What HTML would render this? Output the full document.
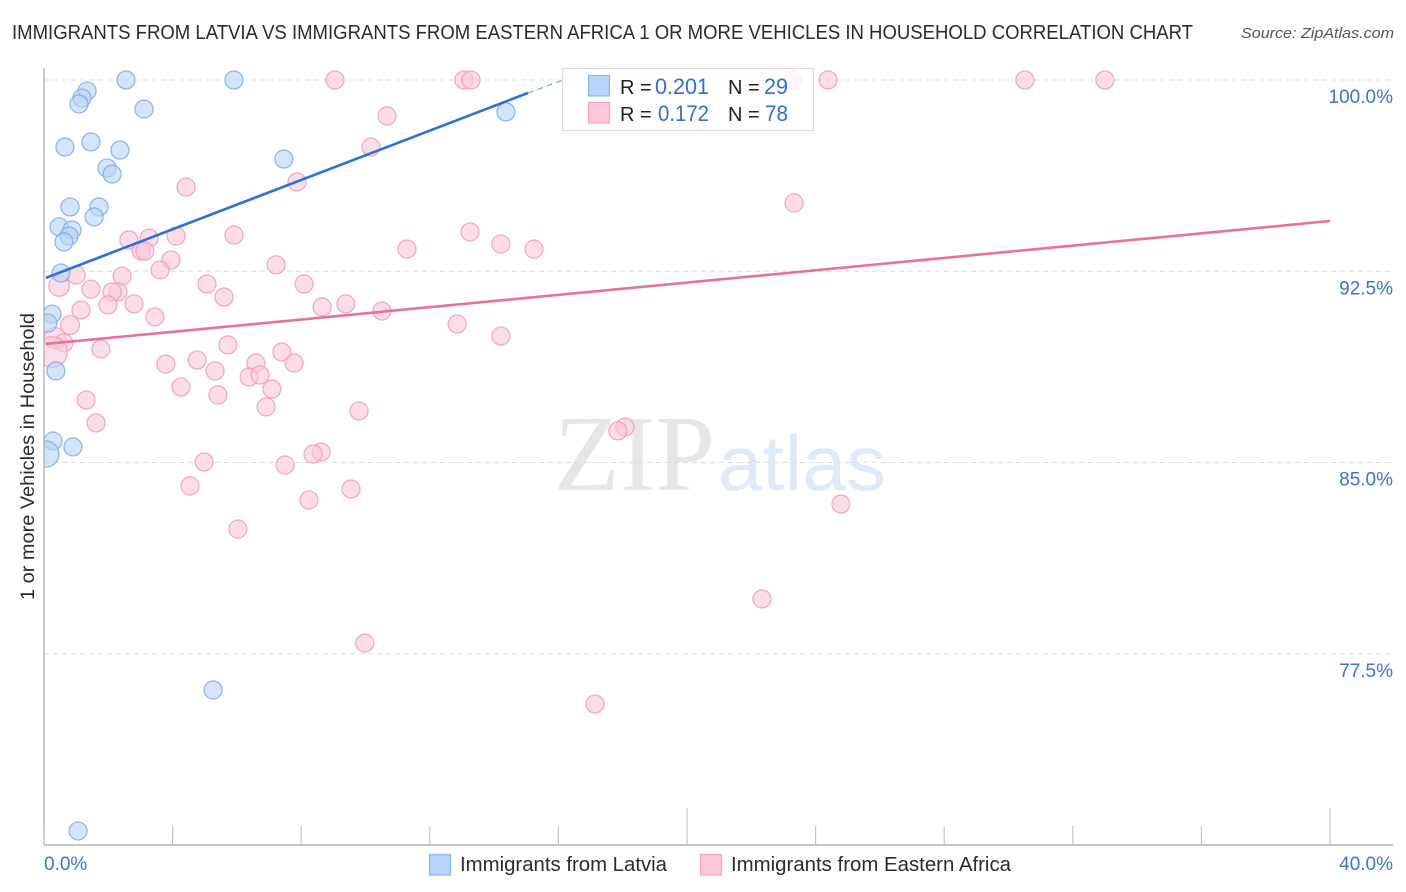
<!DOCTYPE html>
<html lang="en">
<head>
<meta charset="utf-8">
<title>Immigrants from Latvia vs Immigrants from Eastern Africa correlation chart</title>
<style>
html,body{margin:0;padding:0;background:#fff;width:1406px;height:892px;overflow:hidden}
svg{display:block;font-family:"Liberation Sans",sans-serif}
</style>
</head>
<body>
<svg id="chart" xmlns="http://www.w3.org/2000/svg" width="1406" height="892" viewBox="0 0 1406 892">
  <defs>
    <clipPath id="plot-clip"><rect x="44" y="60" width="1350" height="785"/></clipPath>
  </defs>
  <text x="12" y="39" font-size="20" fill="#2b2b2b" textLength="1181" lengthAdjust="spacingAndGlyphs">IMMIGRANTS FROM LATVIA VS IMMIGRANTS FROM EASTERN AFRICA 1 OR MORE VEHICLES IN HOUSEHOLD CORRELATION CHART</text>
  <text x="1394" y="38" font-size="15" font-style="italic" fill="#555" text-anchor="end" textLength="153" lengthAdjust="spacingAndGlyphs">Source: ZipAtlas.com</text>

  <g>
    <text x="554" y="490" font-family="'Liberation Serif',serif" font-size="108" fill="#e6e6e6" textLength="161" lengthAdjust="spacingAndGlyphs">ZIP</text>
    <text x="718" y="490" font-size="78" fill="#e0e9f8" textLength="168" lengthAdjust="spacingAndGlyphs">atlas</text>
  </g>

  <g id="grid"></g>
  <g id="series-pink" clip-path="url(#plot-clip)"></g>
  <g id="series-blue" clip-path="url(#plot-clip)"></g>
  <g id="axes"></g>
  <g id="trends"></g>
  <g id="labels"></g>

  <text transform="translate(34,456.5) rotate(-90)" font-size="19" fill="#2b2b2b" text-anchor="middle" textLength="287" lengthAdjust="spacingAndGlyphs">1 or more Vehicles in Household</text>

  <g>
    <rect x="562.5" y="68.5" width="251" height="62" fill="#ffffff" fill-opacity="0.8" stroke="#dcdcdc" stroke-width="1.2"/>
    <rect x="588.5" y="75.5" width="21" height="20.5" fill="#b8d4f8" stroke="#8db6ea" stroke-width="1.2"/>
    <rect x="588.5" y="102.5" width="21" height="20.5" fill="#fcc8d9" stroke="#f3a3bd" stroke-width="1.2"/>
    <text x="620" y="94" font-size="20" fill="#222">R =</text>
    <text x="709" y="94" font-size="22" fill="#2f6fd0" text-anchor="end" textLength="54" lengthAdjust="spacingAndGlyphs">0.201</text>
    <text x="728" y="94" font-size="20" fill="#222">N =</text>
    <text x="788" y="94" font-size="22" fill="#2f6fd0" text-anchor="end" textLength="24" lengthAdjust="spacingAndGlyphs">29</text>
    <text x="620" y="121" font-size="20" fill="#222">R =</text>
    <text x="709" y="121" font-size="22" fill="#2f6fd0" text-anchor="end" textLength="51" lengthAdjust="spacingAndGlyphs">0.172</text>
    <text x="728" y="121" font-size="20" fill="#222">N =</text>
    <text x="788" y="121" font-size="22" fill="#2f6fd0" text-anchor="end" textLength="23" lengthAdjust="spacingAndGlyphs">78</text>
  </g>

  <g>
    <rect x="429.5" y="854.5" width="21" height="20.5" fill="#b8d4f8" stroke="#8db6ea" stroke-width="1.2"/>
    <text x="460" y="871" font-size="20" fill="#2b2b2b" textLength="207" lengthAdjust="spacingAndGlyphs">Immigrants from Latvia</text>
    <rect x="700.5" y="854.5" width="21" height="20.5" fill="#fcc8d9" stroke="#f3a3bd" stroke-width="1.2"/>
    <text x="731" y="871" font-size="20" fill="#2b2b2b" textLength="280" lengthAdjust="spacingAndGlyphs">Immigrants from Eastern Africa</text>
  </g>
</svg>

<script>
const latviaX = [2.55,5.91,1.34,1.18,1.09,3.11,14.37,1.46,0.65,2.36,7.46,1.96,2.12,0.81,1.71,1.56,0.47,0.87,0.78,0.62,0.53,0.25,0.12,0.37,0.28,0.90,0.06,5.26,1.06];
const latviaY = [100,100,99.57,99.29,99.06,98.86,98.75,97.57,97.37,97.25,96.90,96.55,96.31,95.02,95.02,94.63,94.24,94.12,93.88,93.65,92.43,90.82,90.47,88.59,85.84,85.61,85.33,76.08,70.55];
const latviaWeight = [1,1,1,1,1,1,1,1,1,1,1,1,1,1,1,1,1,1,1,1,1,1,1,1,1,1,2.1,1,1];

const africaX = [9.05,13.06,13.28,23.30,24.39,30.51,33.0,10.67,10.17,4.42,7.87,23.33,13.25,14.21,15.24,11.29,2.64,3.27,4.11,5.91,3.02,3.14,3.95,3.61,7.22,2.43,1.0,0.47,1.46,2.30,2.12,5.07,8.09,5.60,1.99,2.80,1.15,9.39,8.65,10.51,3.45,12.85,0.81,14.21,0.34,0.62,1.77,5.72,0.25,7.40,4.76,3.79,6.59,7.78,5.32,6.38,6.72,4.26,7.09,5.41,1.31,6.91,9.80,1.62,18.07,17.85,8.62,8.37,4.98,7.50,4.54,9.55,8.24,24.79,6.03,22.33,9.98,17.14];
const africaY = [100,100,100,100,100,100,100,98.59,97.37,95.80,96.0,95.18,94.04,93.57,93.37,93.37,93.73,93.80,93.88,93.92,93.29,93.29,92.94,92.55,92.75,92.31,92.35,91.92,91.80,91.69,91.69,92.0,92.0,91.49,91.18,91.22,90.98,91.22,91.10,90.94,90.71,90.43,90.39,89.96,89.88,89.69,89.45,89.61,89.33,89.33,89.02,88.86,88.90,88.90,88.59,88.35,88.43,87.96,87.88,87.65,87.45,87.18,87.02,86.55,86.39,86.24,85.41,85.33,85.02,84.90,84.08,83.96,83.53,83.37,82.39,79.65,77.92,75.53];
const africaWeight = [1,1,1,1,1,1,1,1,1,1,1,1,1,1,1,1,1,1,1,1,1,1,1,1,1,1,1,1.3,1,1,1,1,1,1,1,1,1,1,1,1,1,1,1.1,1,1.4,1,1,1,2.9,1,1,1,1,1,1,1,1,1,1,1,1,1,1,1,1,1,1,1,1,1,1,1,1,1,1,1,1,1];

const latviaTrendX = [0.06,15.05];
const latviaTrendY = [92.24,99.49];
const latviaTrendDashX = [15.05,16.15];
const latviaTrendDashY = [99.49,100];
const africaTrendX = [0.06,40];
const africaTrendY = [89.65,94.47];

const yTicks = [100,92.5,85,77.5];
const yTickLabels = ['100.0%','92.5%','85.0%','77.5%'];
const xTicks = [0,4,8,12,16,20,24,28,32,36,40];
const xMajorTicks = [20,40];
const xEndLabels = ['0.0%','40.0%'];

const NS = 'http://www.w3.org/2000/svg';
function sx(v){ return 44 + v * 32.15; }
function sy(v){ return 80 + (100 - v) * 25.5; }
function rOf(w){ return 9 * Math.sqrt(w); }
function mk(tag, parent, attrs){
  const el = document.createElementNS(NS, tag);
  for (const k in attrs) el.setAttribute(k, attrs[k]);
  parent.appendChild(el);
  return el;
}

const grid = document.getElementById('grid');
yTicks.forEach(function(t){
  const l = mk('line', grid, {x1:44, x2:1393, y1:sy(t), y2:sy(t), stroke:'#dcdcdc', 'stroke-width':1, 'stroke-dasharray':'5 4'});
  
  
});

const axes = document.getElementById('axes');
const yAxisLine = mk('line', axes, {x1:44, x2:44, y1:68, y2:845, stroke:'#b4b4b4', 'stroke-width':1.4});


const xAxisLine = mk('line', axes, {x1:44, x2:1393, y1:845, y2:845, stroke:'#b4b4b4', 'stroke-width':1.4});


xTicks.forEach(function(t){
  const top = xMajorTicks.indexOf(t) >= 0 ? 808 : 826;
  const l = mk('line', axes, {x1:sx(t), x2:sx(t), y1:top, y2:845, stroke:'#c4c4c4', 'stroke-width':1.2});
  
  
});

function drawSeries(id, xs, ys, ws, fill, stroke, name){
  const g = document.getElementById(id);
  xs.forEach(function(x, i){
    const c = mk('circle', g, {cx:sx(x), cy:sy(ys[i]), r:rOf(ws[i]), fill:fill, 'fill-opacity':0.62, stroke:stroke, 'stroke-opacity':0.8, 'stroke-width':1.3});
    
    
  });
}
drawSeries('series-pink', africaX, africaY, africaWeight, '#fcc8d9', '#ee9ab6', 'eastern-africa-point');
drawSeries('series-blue', latviaX, latviaY, latviaWeight, '#b8d4f8', '#7aa9e8', 'latvia-point');

const trends = document.getElementById('trends');
const t1 = mk('line', trends, {x1:sx(latviaTrendX[0]), y1:sy(latviaTrendY[0]), x2:sx(latviaTrendX[1]), y2:sy(latviaTrendY[1]), stroke:'#2a72d8', 'stroke-width':2.6});


const t2 = mk('line', trends, {x1:sx(latviaTrendDashX[0]), y1:sy(latviaTrendDashY[0]), x2:sx(latviaTrendDashX[1]), y2:sy(latviaTrendDashY[1]), stroke:'#2a72d8', 'stroke-width':1, 'stroke-dasharray':'6 4', 'stroke-opacity':0.7});


const t3 = mk('line', trends, {x1:sx(africaTrendX[0]), y1:sy(africaTrendY[0]), x2:sx(africaTrendX[1]), y2:sy(africaTrendY[1]), stroke:'#e8709c', 'stroke-width':2.6});



const labels = document.getElementById('labels');
yTicks.forEach(function(t, i){
  const el = mk('text', labels, {x:1393, y:sy(t) + 23, 'font-size':19, fill:'#3b74d1', 'text-anchor':'end'});
  el.textContent = yTickLabels[i];
  
  
});
const xl0 = mk('text', labels, {x:44, y:870, 'font-size':19, fill:'#3b74d1'});
xl0.textContent = xEndLabels[0];


const xl1 = mk('text', labels, {x:1393, y:870, 'font-size':19, fill:'#3b74d1', 'text-anchor':'end'});
xl1.textContent = xEndLabels[1];


</script>
</body>
</html>
